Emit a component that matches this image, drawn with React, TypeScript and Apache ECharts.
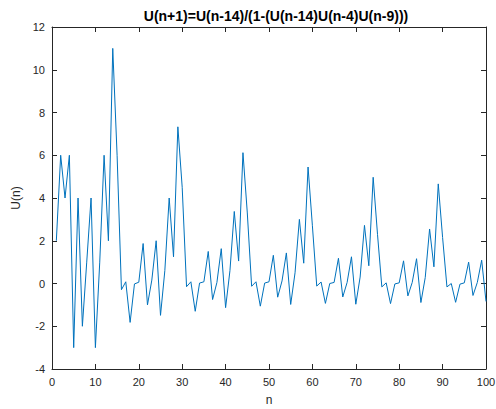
import React, { useEffect, useRef } from "react";
import * as echarts from "echarts";

const titleText = "U(n+1)=U(n-14)/(1-(U(n-14)U(n-4)U(n-9)))";
const xLabel = "n";
const yLabel = "U(n)";

const nValues: number[] = Array.from({ length: 100 }, (_, i) => i + 1);
const uValues: number[] = [
  2, 6, 4, 6, -3, 4, -2, 1, 4, -3,
  1, 6, 2, 11, 6, -0.29, 0.08, -1.82, -0.02, 0.06,
  1.87, -1.0, 0.16, 2.0, -1.49, 0.6, 4.0, 1.25, 7.33, 4.5,
  -0.15, 0.08, -1.3, 0.02, 0.08, 1.5, -0.75, 0.05, 1.63, -1.13,
  0.6, 3.37, 1.05, 6.12, 3.3, -0.13, 0.08, -1.06, 0.02, 0.08,
  1.32, -0.64, 0.12, 1.43, -0.98, 0.5, 3.0, 0.95, 5.45, 2.7,
  -0.12, 0.07, -0.93, 0.0, 0.05, 1.18, -0.63, 0.05, 1.25, -0.97,
  0.3, 2.72, 0.83, 4.97, 2.3, -0.16, 0.03, -0.94, -0.02, 0.03,
  1.06, -0.58, 0.05, 1.16, -0.89, 0.28, 2.55, 0.78, 4.66, 2.15,
  -0.16, 0.0, -0.88, -0.03, 0.03, 1.0, -0.56, 0.05, 1.09, -0.84,
];

const FONT = "Liberation Sans, Arial, Helvetica, sans-serif";
const AXIS_COLOR = "#262626";

export default function App() {
  const ref = useRef<HTMLDivElement>(null);
  useEffect(() => {
    if (!ref.current) return;
    const chart = echarts.init(ref.current, undefined, { renderer: "svg" });
    const axisCommon = {
      axisLine: { show: true, onZero: false, lineStyle: { color: AXIS_COLOR, width: 1 } },
      axisTick: { show: true, inside: true, length: 5, lineStyle: { color: AXIS_COLOR } },
      splitLine: { show: false },
    };
    chart.setOption({
      animation: false,
      backgroundColor: "#ffffff",
      title: {
        text: titleText,
        left: 271,
        textAlign: "center",
        top: 4,
        textStyle: { fontFamily: FONT, fontSize: 14, fontWeight: "bold", color: "#000000" },
      },
      grid: {
        left: 52,
        right: 10,
        top: 27,
        bottom: 40,
        containLabel: false,
        outerBoundsMode: "none",
      },
      xAxis: [
        {
          type: "value",
          min: 0,
          max: 100,
          interval: 10,
          position: "bottom",
          name: xLabel,
          nameLocation: "middle",
          nameGap: 25,
          nameTextStyle: { fontFamily: FONT, fontSize: 12, color: AXIS_COLOR },
          axisLabel: { fontFamily: FONT, fontSize: 11, color: AXIS_COLOR, margin: 7 },
          ...axisCommon,
        },
        {
          type: "value",
          min: 0,
          max: 100,
          interval: 10,
          position: "top",
          axisLabel: { show: false },
          ...axisCommon,
        },
      ],
      yAxis: [
        {
          type: "value",
          min: -4,
          max: 12,
          interval: 2,
          position: "left",
          name: yLabel,
          nameLocation: "middle",
          nameGap: 26,
          nameRotate: 90,
          nameTextStyle: { fontFamily: FONT, fontSize: 12, color: AXIS_COLOR },
          axisLabel: { fontFamily: FONT, fontSize: 11, color: AXIS_COLOR, margin: 7 },
          ...axisCommon,
        },
        {
          type: "value",
          min: -4,
          max: 12,
          interval: 2,
          position: "right",
          axisLabel: { show: false },
          ...axisCommon,
        },
      ],
      series: [
        {
          type: "line",
          data: nValues.map((n, i) => [n, uValues[i]]),
          xAxisIndex: 0,
          yAxisIndex: 0,
          showSymbol: false,
          symbol: "none",
          lineStyle: { color: "#0072BD", width: 1 },
        },
      ],
    });
    return () => chart.dispose();
  }, []);
  return (
    <div
      ref={ref}
      style={{ position: "fixed", left: 0, top: 0, width: 496, height: 409, background: "#fff" }}
    />
  );
}
